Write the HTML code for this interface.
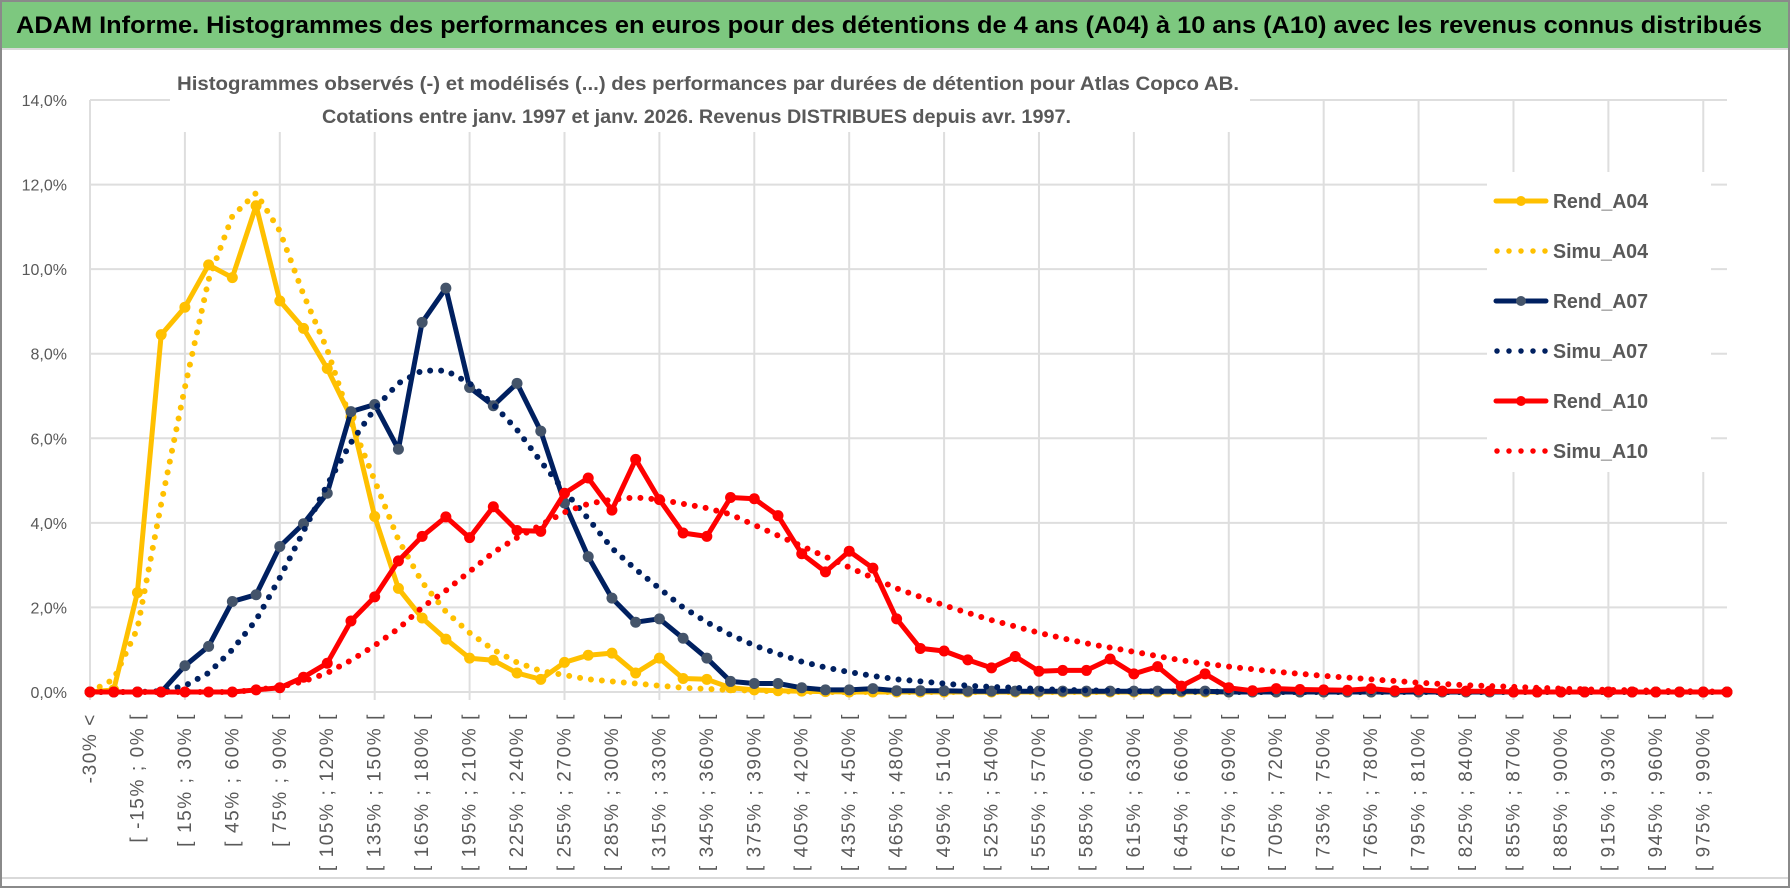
<!DOCTYPE html>
<html><head><meta charset="utf-8"><style>
html,body{margin:0;padding:0;background:#fff;}
svg{display:block;font-family:"Liberation Sans",sans-serif;}
</style></head><body>
<svg id="chart" width="1790" height="888" viewBox="0 0 1790 888">
  <rect x="1" y="1" width="1788" height="886" fill="#fff" stroke="#8a8a8a" stroke-width="2"/>
  <rect x="2" y="2" width="1786" height="46" fill="#7dc87f"/>
  <line x1="2" y1="49" x2="1788" y2="49" stroke="#d9d9d9" stroke-width="2"/>
  <text x="16" y="33" font-size="24" font-weight="bold" fill="#000" textLength="1746" lengthAdjust="spacingAndGlyphs">ADAM Informe. Histogrammes des performances en euros pour des détentions de 4 ans (A04) à 10 ans (A10) avec les revenus connus distribués</text>
  <line x1="2" y1="878" x2="1788" y2="878" stroke="#d9d9d9" stroke-width="2"/>
  <g id="grid"></g>
  <rect x="170" y="66" width="1080" height="66" fill="#fff"/>
  <text x="177" y="90" font-size="19" font-weight="bold" fill="#595959" textLength="1062" lengthAdjust="spacingAndGlyphs">Histogrammes observés (-) et modélisés (...) des performances par durées de détention pour Atlas Copco AB.</text>
  <text x="322" y="123" font-size="19" font-weight="bold" fill="#595959" textLength="749" lengthAdjust="spacingAndGlyphs">Cotations entre janv. 1997 et janv. 2026. Revenus DISTRIBUES depuis avr. 1997.</text>
  <g id="yaxis"></g>
  <g id="xaxis"></g>
  <g id="series"></g>
  <g id="legend"></g>
</svg>
<script>
const yTicks = [0, 2, 4, 6, 8, 10, 12, 14];
const rendA04 = [0,0.05,2.35,8.45,9.1,10.1,9.8,11.5,9.25,8.6,7.65,6.5,4.15,2.45,1.75,1.25,0.8,0.75,0.45,0.3,0.7,0.87,0.92,0.45,0.8,0.32,0.3,0.1,0.05,0.03,0.02,0.01,0,0,0,0,0,0,0,0,0,0,0,0,0,0,0,0,0,0,0,0,0,0,0,0,0,0,0,0,0,0,0,0,0,0,0,0,0,0];
const simuA04 = [0,0.3,1.5,4.45,7.2,9.75,11.25,11.8,10.9,9.4,8.1,6.4,5.0,3.6,2.6,1.9,1.4,1.0,0.7,0.5,0.4,0.3,0.25,0.2,0.15,0.1,0.07,0.05,0.03,0.02,0.01,0,0,0,0,0,0,0,0,0,0,0,0,0,0,0,0,0,0,0,0,0,0,0,0,0,0,0,0,0,0,0,0,0,0,0,0,0,0,0];
const rendA07 = [0,0,0,0,0.62,1.08,2.14,2.3,3.44,3.98,4.7,6.63,6.8,5.74,8.74,9.55,7.2,6.77,7.3,6.17,4.47,3.2,2.22,1.65,1.73,1.27,0.8,0.25,0.2,0.2,0.1,0.05,0.05,0.08,0.03,0.03,0.03,0.02,0.02,0.02,0.02,0.02,0.02,0.02,0.02,0.02,0.02,0.02,0,0,0,0,0,0,0,0,0,0,0,0,0,0,0,0,0,0,0,0,0,0];
const simuA07 = [0,0,0,0.02,0.15,0.45,1.0,1.7,2.7,3.8,4.9,5.9,6.7,7.3,7.6,7.6,7.3,6.8,6.2,5.45,4.75,4.1,3.4,2.9,2.45,2.0,1.65,1.35,1.1,0.9,0.72,0.58,0.47,0.38,0.3,0.25,0.2,0.15,0.12,0.1,0.07,0.05,0.04,0.03,0.02,0.02,0.01,0.01,0,0,0,0,0,0,0,0,0,0,0,0,0,0,0,0,0,0,0,0,0,0];
const rendA10 = [0,0,0,0,0,0,0,0.05,0.1,0.35,0.68,1.68,2.25,3.1,3.68,4.14,3.65,4.38,3.82,3.8,4.7,5.06,4.3,5.5,4.55,3.76,3.68,4.6,4.57,4.17,3.27,2.84,3.33,2.93,1.73,1.03,0.97,0.76,0.57,0.84,0.49,0.51,0.51,0.78,0.43,0.6,0.14,0.43,0.1,0.03,0.08,0.06,0.05,0.04,0.08,0.03,0.05,0.02,0.02,0.02,0,0,0,0,0,0,0,0,0,0];
const simuA10 = [0,0,0,0,0,0,0,0.05,0.12,0.25,0.45,0.75,1.1,1.5,2.0,2.4,2.85,3.3,3.65,3.95,4.25,4.45,4.55,4.6,4.55,4.45,4.35,4.2,3.95,3.7,3.45,3.2,2.95,2.7,2.45,2.25,2.05,1.87,1.7,1.55,1.4,1.27,1.15,1.05,0.95,0.85,0.75,0.67,0.6,0.54,0.48,0.43,0.38,0.34,0.3,0.26,0.22,0.19,0.16,0.14,0.12,0.1,0.08,0.065,0.05,0.04,0.03,0.02,0.02,0];
const legendLabels = ["Rend_A04","Simu_A04","Rend_A07","Simu_A07","Rend_A10","Simu_A10"];

const NS = "http://www.w3.org/2000/svg";
const N = rendA04.length;
const X0 = 90, X1 = 1727, Y0 = 692, YTOP = 100, YMAX = 14;
function xPos(i){ return X0 + i * (X1 - X0) / (N - 1); }
function yPos(v){ return Y0 - v / YMAX * (Y0 - YTOP); }
function mk(tag, attrs, parent){ const e = document.createElementNS(NS, tag); for (const k in attrs) e.setAttribute(k, attrs[k]); parent.appendChild(e); return e; }
function catLabel(i){ if (i === 0) return "-30% <"; const a = -30 + 15 * (i - 1); return "[ " + a + "% ; " + (a + 15) + "% ["; }

const grid = document.getElementById("grid");
yTicks.forEach(t => {
  const l = mk("line", {x1: X0, x2: X1, y1: yPos(t), y2: yPos(t), stroke: "#dedede", "stroke-width": 2}, grid);
  
  
});
for (let i = 0; i < N; i += 4) {
  const l = mk("line", {x1: xPos(i), x2: xPos(i), y1: YTOP, y2: Y0 + 8, stroke: "#dedede", "stroke-width": 2}, grid);
  
  
}

const yaxis = document.getElementById("yaxis");
yTicks.forEach(t => {
  const tx = mk("text", {x: 67, y: yPos(t) + 6, "text-anchor": "end", "font-size": 16, fill: "#595959"}, yaxis);
  tx.textContent = t.toFixed(1).replace(".", ",") + "%";
  
  
});

const xaxis = document.getElementById("xaxis");
for (let i = 0; i < N; i += 2) {
  const tx = mk("text", {x: 0, y: 0, "text-anchor": "end", "font-size": 19, "letter-spacing": 1.6, fill: "#595959",
    transform: "translate(" + (xPos(i) + 6) + ",713) rotate(-90)"}, xaxis);
  tx.textContent = catLabel(i);
  
  
}

const series = document.getElementById("series");
function pts(arr){ return arr.map((v, i) => xPos(i).toFixed(1) + "," + yPos(v).toFixed(1)).join(" "); }
function dotted(arr, color, name){
  const p = mk("polyline", {points: pts(arr), fill: "none", stroke: color, "stroke-width": 6, "stroke-linecap": "round", "stroke-dasharray": "0 11"}, series);
  
  
}
function solid(arr, color, mcolor, name){
  const g = mk("g", {}, series);
  
  
  mk("polyline", {points: pts(arr), fill: "none", stroke: color, "stroke-width": 5, "stroke-linejoin": "round"}, g);
  arr.forEach((v, i) => {
    const c = mk("circle", {cx: xPos(i), cy: yPos(v), r: 5.5, fill: mcolor}, g);
    
    
  });
}
solid(rendA04, "#ffc000", "#ffc000", "rend-a04-line");
dotted(simuA04, "#ffc000", "simu-a04-line");
solid(rendA07, "#002060", "#44546a", "rend-a07-line");
dotted(simuA07, "#002060", "simu-a07-line");
solid(rendA10, "#ff0000", "#ff0000", "rend-a10-line");
dotted(simuA10, "#ff0000", "simu-a10-line");

const legend = document.getElementById("legend");
mk("rect", {x: 1487, y: 172, width: 224, height: 300, fill: "#fff"}, legend);
const lcolors = ["#ffc000","#ffc000","#002060","#002060","#ff0000","#ff0000"];
const lmark = ["#ffc000",null,"#44546a",null,"#ff0000",null];
legendLabels.forEach((lab, k) => {
  const y = 201 + k * 50;
  const g = mk("g", {}, legend);
  
  
  if (lmark[k]) {
    mk("line", {x1: 1496, x2: 1546, y1: y, y2: y, stroke: lcolors[k], "stroke-width": 5, "stroke-linecap": "round"}, g);
    mk("circle", {cx: 1521, cy: y, r: 5, fill: lmark[k]}, g);
  } else {
    mk("line", {x1: 1497, x2: 1546, y1: y, y2: y, stroke: lcolors[k], "stroke-width": 5.5, "stroke-linecap": "round", "stroke-dasharray": "0 12"}, g);
  }
  const t = mk("text", {x: 1553, y: y + 7, "font-size": 20, "font-weight": "bold", fill: "#595959", textLength: 95, lengthAdjust: "spacingAndGlyphs"}, g);
  t.textContent = lab;
});
</script>
</body></html>
